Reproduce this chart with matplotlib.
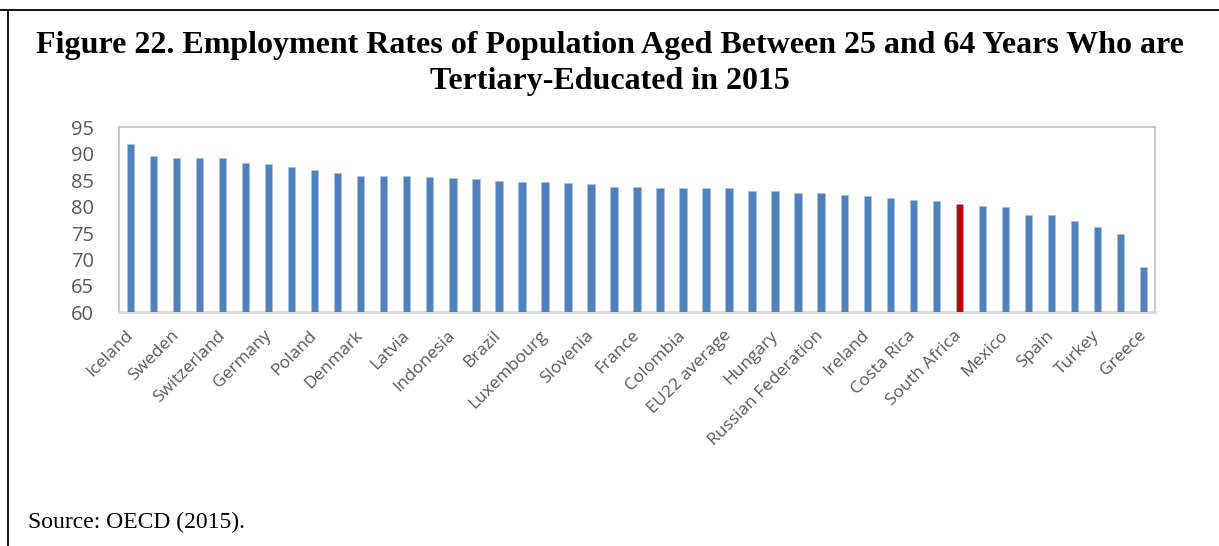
import matplotlib
matplotlib.use("Agg")
import matplotlib.pyplot as plt
from matplotlib.lines import Line2D
import numpy as np

# 45 bars, only every other one carries a label in the original chart
values = [91.8, 89.6, 89.2, 89.2, 89.1, 88.2, 88.1, 87.4, 87.0, 86.4,
          85.8, 85.8, 85.7, 85.6, 85.5, 85.2, 84.8, 84.7, 84.7, 84.5,
          84.3, 83.8, 83.7, 83.6, 83.6, 83.6, 83.6, 83.0, 82.9, 82.6,
          82.5, 82.1, 82.0, 81.6, 81.2, 81.1, 80.5, 80.2, 80.0, 78.4,
          78.4, 77.3, 76.1, 74.8, 68.6]
tick_labels = ['Iceland', 'Sweden', 'Switzerland', 'Germany', 'Poland',
               'Denmark', 'Latvia', 'Indonesia', 'Brazil', 'Luxembourg',
               'Slovenia', 'France', 'Colombia', 'EU22 average', 'Hungary',
               'Russian Federation', 'Ireland', 'Costa Rica', 'South Africa',
               'Mexico', 'Spain', 'Turkey', 'Greece']
highlight = 'South Africa'
y_ticks = [60, 65, 70, 75, 80, 85, 90, 95]

BLUE = '#4F81BD'
RED = '#C00000'

W, H = 1219, 546
fig = plt.figure(figsize=(W / 100, H / 100), dpi=100)

# plot area in pixel coords -> figure fractions
L, R, T, B = 119, 1155, 127.3, 312.3
ax = fig.add_axes([L / W, 1 - B / H, (R - L) / W, (B - T) / H])

x = np.arange(len(values))
hi_idx = 2 * tick_labels.index(highlight)
colors = [RED if i == hi_idx else BLUE for i in x]
ax.bar(x, values, width=0.32, color=colors, edgecolor='#A9C0DE',
       linewidth=0.4, zorder=3)

ax.set_xlim(-0.5, len(values) - 0.5)
ax.set_ylim(60, 95)
ax.set_yticks(y_ticks)
ax.set_yticklabels([str(v) for v in y_ticks], fontsize=14.5,
                   family='Open Sans', color='#595959')
ax.set_xticks(x[::2])
ax.set_xticklabels(tick_labels, rotation=45, ha='right', va='center',
                   rotation_mode='anchor', fontsize=12.5,
                   family='Open Sans', color='#595959')
ax.tick_params(axis='both', length=0)
ax.tick_params(axis='y', pad=18)
ax.tick_params(axis='x', pad=15)
for s in ax.spines.values():
    s.set_color('#BFBFBF')
    s.set_linewidth(1.2)
ax.spines['bottom'].set_color('#D9D9D9')
ax.spines['bottom'].set_linewidth(2)

# outer frame (top and left only)
fig.add_artist(Line2D([0, 1], [1 - 10 / H, 1 - 10 / H], color='black', lw=1.3,
                      transform=fig.transFigure))
fig.add_artist(Line2D([8 / W, 8 / W], [0, 1 - 10 / H], color='black', lw=1.3,
                      transform=fig.transFigure))

fig.text(0.5, 1 - 46 / H,
         'Figure 22. Employment Rates of Population Aged Between 25 and 64 Years Who are',
         ha='center', va='center', fontsize=23, fontweight='bold',
         family='Liberation Serif')
fig.text(0.5, 1 - 81 / H, 'Tertiary-Educated in 2015',
         ha='center', va='center', fontsize=23, fontweight='bold',
         family='Liberation Serif')
fig.text(28 / W, 1 - 522 / H, 'Source: OECD (2015).', ha='left', va='center',
         fontsize=17, family='Liberation Serif')

fig.savefig('out.png', dpi=100, facecolor='white')
